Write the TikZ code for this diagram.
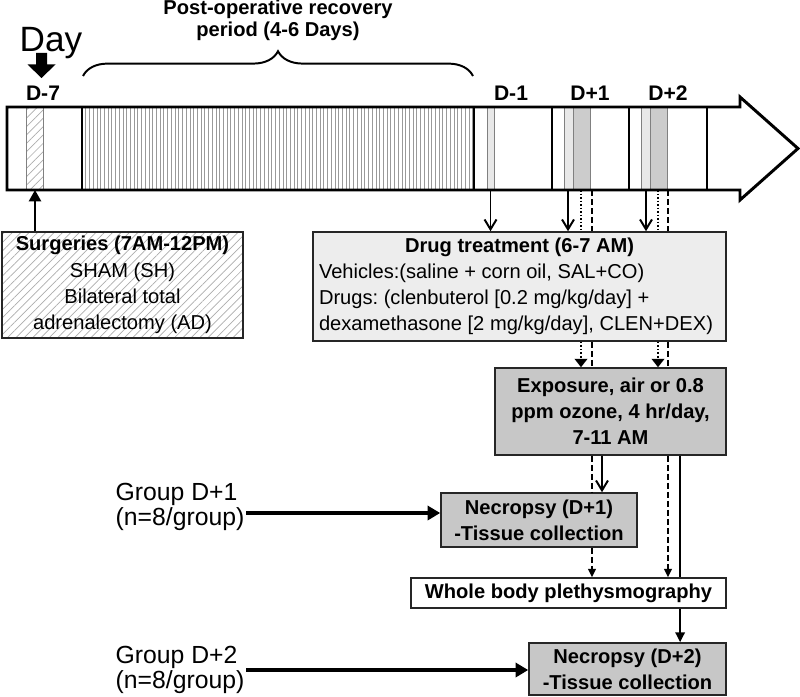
\documentclass[tikz,border=0pt]{standalone}
\usepackage{fontspec}
\setmainfont{Liberation Sans}
\usetikzlibrary{arrows.meta, decorations.pathreplacing, patterns.meta}
\frenchspacing
\tikzset{
    daylabel/.style = {font = \fontsize{15}{18}\selectfont\bfseries},
    grouplabel/.style = {font = \fontsize{17.6}{18}\selectfont, align = left, inner sep = 1pt},
    stage/.style = {draw = black!85, line width = 1.1pt, inner sep = 0pt, align = center,
        font = \fontsize{14.3}{18.6}\selectfont\bfseries},
    hatched/.style = {pattern = {Lines[angle = 45, distance = 4.2pt, line width = 0.5pt]}, pattern color = gray!65},
    barline/.style = {line width = 2.1pt, line join = miter},
    divider/.style = {line width = 1.7pt},
    recline/.style = {gray!80, line width = 0.5pt},
    barb/.style = {line width = 1.4pt, -{Straight Barb[length = 7pt, width = 8.5pt, line width = 1.4pt]}},
    tri/.style = {-{Triangle[length = 6pt, width = 9pt]}},
    smalltri/.style = {-{Triangle[length = 6pt, width = 5.5pt]}},
    dotline/.style = {line width = 1.4pt, dash pattern = on 1.2pt off 1.3pt},
    dashline/.style = {line width = 1.4pt, dash pattern = on 4.2pt off 2.2pt},
    solidline/.style = {line width = 1.8pt},
    grouparrow/.style = {line width = 2.8pt, -{Triangle[length = 9pt, width = 10pt]}}
}
\begin{document}
\begin{tikzpicture}[x = 0.025cm, y = -0.025cm]
    \useasboundingbox (0,0) rectangle (800,696);

    \node[font = \fontsize{25}{30}\selectfont, inner sep = 0pt] (day) at (51,43) {Day};
    \fill (36,53) -- (47,53) -- (47,64.5) -- (55.5,64.5) -- (41.5,78) -- (27.5,64.5) -- (36,64.5) -- cycle;
    \node[font = \fontsize{14.3}{15.6}\selectfont\bfseries, align = center] (recovery) at (278,20) {Post-operative recovery\\period (4-6 Days)};
    \draw[line width = 1.4pt, decorate, decoration = {brace, amplitude = 0.62cm}] (83,76) -- (473,76);

    \node[daylabel] (dm7) at (43,93) {D-7};
    \node[daylabel] (dm1) at (511,93) {D-1};
    \node[daylabel] (dp1) at (590,93) {D+1};
    \node[daylabel] (dp2) at (668,93) {D+2};

    \foreach \i in {1, ..., 105} {
        \draw[recline] (82+\i*3.72,107) -- (82+\i*3.72,190);
    }
    \draw[gray, line width = 0.6pt, hatched] (26,107) rectangle (43,190);
    \filldraw[fill = black!9, draw = gray, line width = 0.6pt] (487,107) rectangle (494,190);
    \foreach \x in {564, 641} {
        \filldraw[fill = black!9, draw = gray, line width = 0.6pt] (\x,107) rectangle (\x+9,190);
        \filldraw[fill = black!20, draw = gray, line width = 0.6pt] (\x+9,107) rectangle (\x+26,190);
    }
    \draw[barline] (7,107) -- (740,107) -- (740,97) -- (798,148.5) -- (740,200) -- (740,190) -- (7,190) -- cycle;
    \foreach \x in {82, 474, 552, 629, 707} {
        \draw[divider] (\x,107) -- (\x,190);
    }

    \coordinate (s7) at (35,190);
    \coordinate (m1) at (490.5,190);
    \coordinate (a1) at (568,190);
    \coordinate (o1) at (581,190);
    \coordinate (e1) at (592,190);
    \coordinate (a2) at (646,190);
    \coordinate (o2) at (658,190);
    \coordinate (e2) at (668,190);

    \node[stage, hatched, minimum width = 241*0.025cm, minimum height = 106*0.025cm, font = \fontsize{14.3}{18.6}\selectfont] (surg) at (122.5,285) {\textbf{Surgeries (7AM-12PM)}\\SHAM (SH)\\Bilateral total\\adrenalectomy (AD)};
    \node[stage, fill = black!7, align = flush left, text width = 401*0.025cm, minimum width = 413*0.025cm, minimum height = 109*0.025cm, font = \fontsize{14.3}{18.6}\selectfont] (drug) at (519.5,286.5) {\makebox[10.025cm]{\textbf{Drug treatment (6-7 AM)}}\\Vehicles:(saline + corn oil, SAL+CO)\\Drugs: (clenbuterol [0.2 mg/kg/day] +\\dexamethasone [2 mg/kg/day], CLEN+DEX)};
    \node[stage, fill = black!22, minimum width = 231*0.025cm, minimum height = 87*0.025cm] (expo) at (610.5,411.5) {Exposure, air or 0.8\\ppm ozone, 4 hr/day,\\7-11 AM};
    \node[stage, fill = black!22, minimum width = 196*0.025cm, minimum height = 54*0.025cm] (nec1) at (539,520) {Necropsy (D+1)\\-Tissue collection};
    \node[stage, fill = white, minimum width = 315*0.025cm, minimum height = 30*0.025cm] (wbp) at (568.5,593) {Whole body plethysmography};
    \node[stage, fill = black!22, minimum width = 197*0.025cm, minimum height = 52*0.025cm] (nec2) at (627.5,669) {Necropsy (D+2)\\-Tissue collection};

    \node[grouplabel, anchor = west] (grp1) at (114,507) {Group D+1\\(n=8/group)};
    \node[grouplabel, anchor = west] (grp2) at (114,670) {Group D+2\\(n=8/group)};

    \draw[line width = 1.6pt, -{Triangle[length = 8pt, width = 8.5pt]}] (s7 |- surg.north) -- (s7);
    \foreach \c in {m1, a1, a2} {
        \draw[barb] (\c) -- (\c |- drug.north);
    }
    \foreach \c in {o1, o2} {
        \draw[dotline] (\c) -- (\c |- drug.north);
        \draw[dotline, tri] (\c |- drug.south) -- (\c |- expo.north);
    }
    \foreach \c in {e1, e2} {
        \draw[dashline] (\c) -- (\c |- drug.north);
        \draw[dashline] (\c |- drug.south) -- (\c |- expo.north);
    }
    \coordinate (k1) at ([xshift = -0.2125cm]expo.south);
    \coordinate (k2) at ([xshift = 1.74cm]expo.south);
    \draw[dashline] (e1 |- expo.south) -- (e1 |- nec1.north);
    \draw[barb] (k1) -- (k1 |- nec1.north);
    \draw[dashline, smalltri] (e1 |- nec1.south) -- (e1 |- wbp.north);
    \draw[dashline, smalltri] (e2 |- expo.south) -- (e2 |- wbp.north);
    \draw[solidline] (k2) -- (k2 |- wbp.north);
    \draw[solidline, -{Triangle[length = 7pt, width = 6.5pt]}] (k2 |- wbp.south) -- (k2 |- nec2.north);

    \draw[grouparrow] ([yshift = -0.15cm]grp1.east) -- ([yshift = -0.15cm]grp1.east -| nec1.west);
    \draw[grouparrow] (grp2.east) -- (grp2.east -| nec2.west);
\end{tikzpicture}
\end{document}
